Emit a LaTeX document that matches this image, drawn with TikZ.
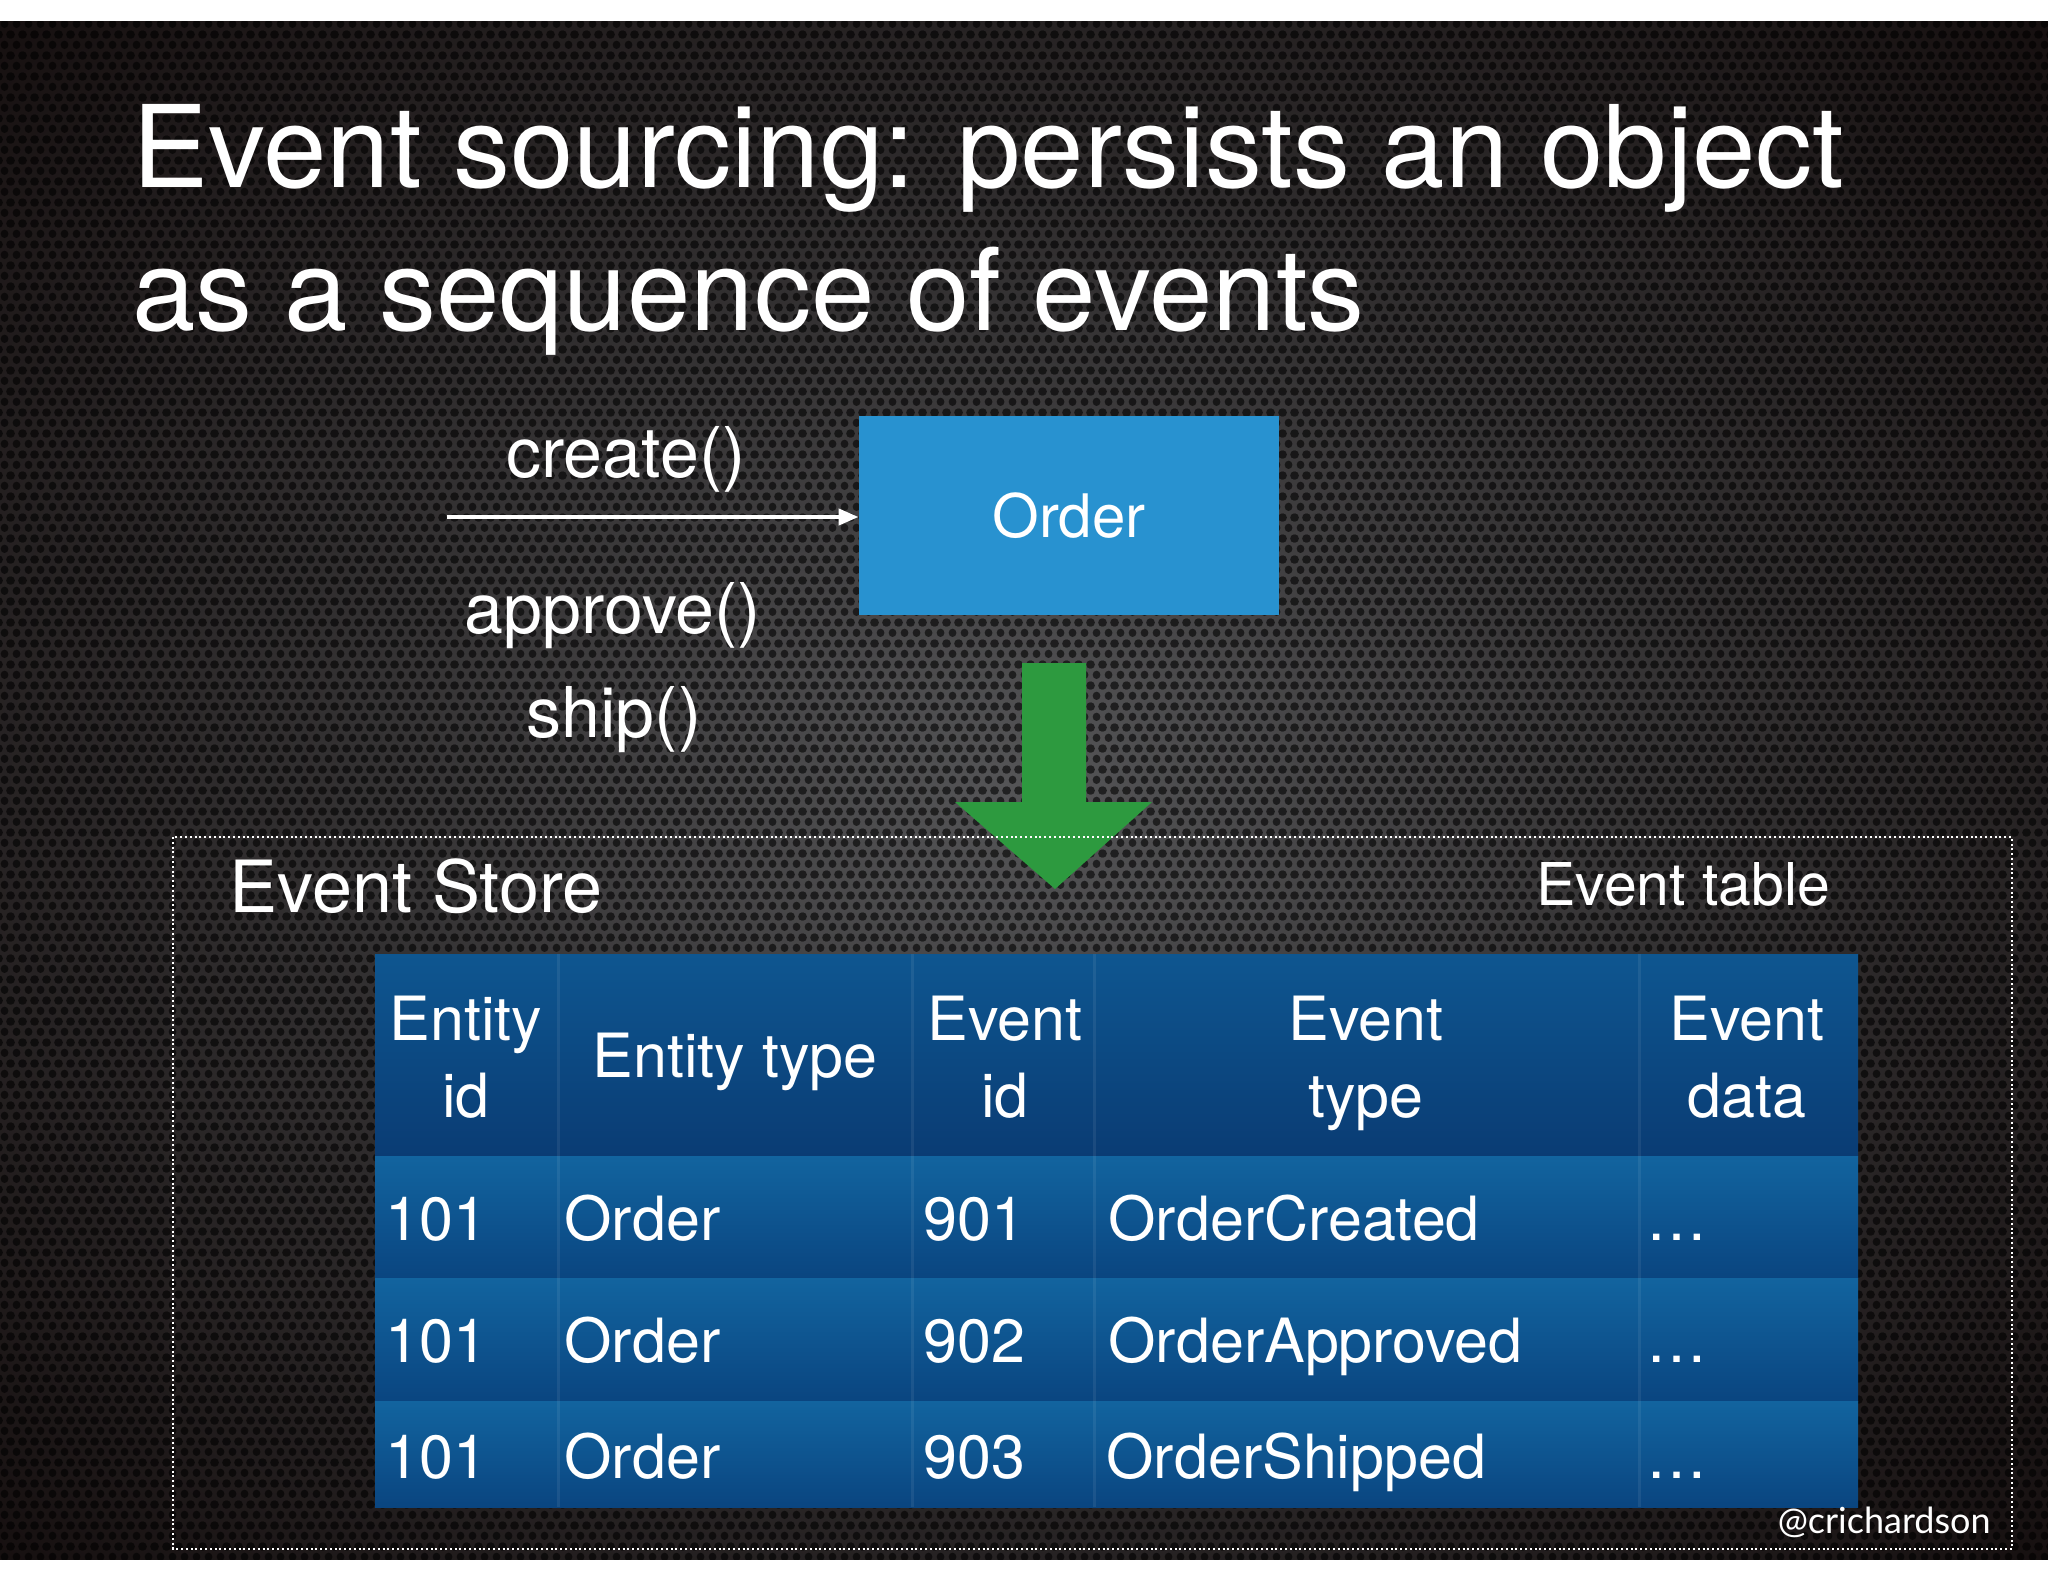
\documentclass[tikz,border=0pt]{standalone}
\usepackage{fontspec}
\setmainfont{TeX Gyre Heros}
\newfontfamily\handlefont{Lato}
\usetikzlibrary{patterns.meta,arrows.meta}
\definecolor{bgA}{HTML}{555557}
\definecolor{bgB}{HTML}{343233}
\definecolor{bgC}{HTML}{120B0B}
\definecolor{orderblue}{HTML}{2892D0}
\definecolor{arrowgreen}{HTML}{2D9A3F}
\definecolor{headtop}{HTML}{0E5690}
\definecolor{headbot}{HTML}{0A3C74}
\definecolor{rowtop}{HTML}{12649F}
\definecolor{rowbot}{HTML}{0A4580}
\pgfdeclareradialshading{bgshade}{\pgfpoint{0bp}{0bp}}{color(0bp)=(bgA); color(16bp)=(bgB); color(38bp)=(bgC); color(50bp)=(bgC)}
\tikzdeclarepattern{
  name=perf,
  type=uncolored,
  bounding box={(0pt,0pt) and (6pt,10.4pt)},
  tile size={(6pt,10.4pt)},
  code={
    \fill (3pt,2.6pt) circle [radius=2.1pt];
    \fill (0pt,7.8pt) circle [radius=2.1pt];
    \fill (6pt,7.8pt) circle [radius=2.1pt];
  }
}
\tikzset{
  txt/.style={text=white, inner sep=0pt},
  title/.style={txt, font=\fontsize{57pt}{72pt}\selectfont, anchor=base west},
  method/.style={txt, font=\fontsize{35pt}{42pt}\selectfont, anchor=base},
  cell/.style={txt, font=\fontsize{30.5pt}{37pt}\selectfont, anchor=base west},
  headcell/.style={txt, font=\fontsize{30.5pt}{37pt}\selectfont, anchor=base},
  orderbox/.style={fill=orderblue, text=white, minimum width=210pt, minimum height=99.5pt, inner sep=0pt, font=\fontsize{30pt}{36pt}\selectfont},
  storeborder/.style={draw=white, line width=1pt, dash pattern=on 1pt off 1.4pt},
  colline/.style={white, opacity=0.07, line width=1.5pt},
}
\begin{document}
\begin{tikzpicture}[x=0.5pt,y=-0.5pt]
\useasboundingbox (0,0) rectangle (2048,1582);
\fill[white] (0,0) rectangle (2048,1582);
% background
\shade[shading=bgshade] (0,22) rectangle (2048,1559);
\fill[pattern=perf, pattern color=black, fill opacity=0.6] (0,22) rectangle (2048,1559);

% title
\node[title] (t1) at (132,188) {Event sourcing: persists an object};
\node[title] (t2) at (132,331) {as a sequence of events};

% methods and order
\node[orderbox] (order) at (1069,515.5) {Order};
\coordinate (cstart) at (447,517);
\draw[white, line width=2pt, -{Triangle[length=10pt,width=8pt]}] (cstart) -- (cstart -| order.west);
\node[method] (create) at (626,478) {create()};
\node[method] (approve) at (613,633) {approve()};
\node[method] (ship) at (614,737) {ship()};

% green arrow
\fill[arrowgreen] (1022,663) -- (1086,663) -- (1086,802) -- (1152,802) -- (1055,889) -- (955,802) -- (1022,802) -- cycle;

% event store border
\draw[storeborder] (173,837) rectangle (2012,1549);
\node[txt, font=\fontsize{36pt}{43pt}\selectfont, anchor=base west] (store) at (229,912) {Event Store};
\node[txt, font=\fontsize{29.5pt}{35pt}\selectfont, anchor=base west] (etable) at (1536,905) {Event table};

% table
\shade[top color=headtop, bottom color=headbot] (375,954) rectangle (1858,1156);
\shade[top color=rowtop, bottom color=rowbot] (375,1156) rectangle (1858,1278);
\shade[top color=rowtop, bottom color=rowbot] (375,1278) rectangle (1858,1401);
\shade[top color=rowtop, bottom color=rowbot] (375,1401) rectangle (1858,1507);
\foreach \cx in {558,912,1094,1639} {\draw[colline] (\cx,954) -- (\cx,1507);}

% header
\node[headcell] (h1a) at (466,1040) {Entity};
\node[headcell] (h1b) at (466,1117) {id};
\node[headcell] (h2) at (735,1077) {Entity type};
\node[headcell] (h3a) at (1005,1040) {Event};
\node[headcell] (h3b) at (1005,1117) {id};
\node[headcell] (h4a) at (1366,1040) {Event};
\node[headcell] (h4b) at (1366,1117) {type};
\node[headcell] (h5a) at (1747,1040) {Event};
\node[headcell] (h5b) at (1747,1117) {data};

% rows
\node[cell] (r1c1) at (385,1240) {101};
\node[cell] (r1c2) at (564,1240) {Order};
\node[cell] (r1c3) at (923,1240) {901};
\node[cell] (r1c4) at (1108,1240) {OrderCreated};
\node[cell] (r1c5) at (1646,1240) {…};
\node[cell] (r2c1) at (385,1362) {101};
\node[cell] (r2c2) at (564,1362) {Order};
\node[cell] (r2c3) at (923,1362) {902};
\node[cell] (r2c4) at (1108,1362) {OrderApproved};
\node[cell] (r2c5) at (1646,1362) {…};
\node[cell] (r3c1) at (385,1478) {101};
\node[cell] (r3c2) at (564,1478) {Order};
\node[cell] (r3c3) at (923,1478) {903};
\node[cell] (r3c4) at (1106,1478) {OrderShipped};
\node[cell] (r3c5) at (1646,1478) {…};

% handle
\node[txt, font=\handlefont\fontsize{18pt}{22pt}\selectfont, anchor=base east] (handle) at (1991,1533) {@crichardson};
\end{tikzpicture}
\end{document}
